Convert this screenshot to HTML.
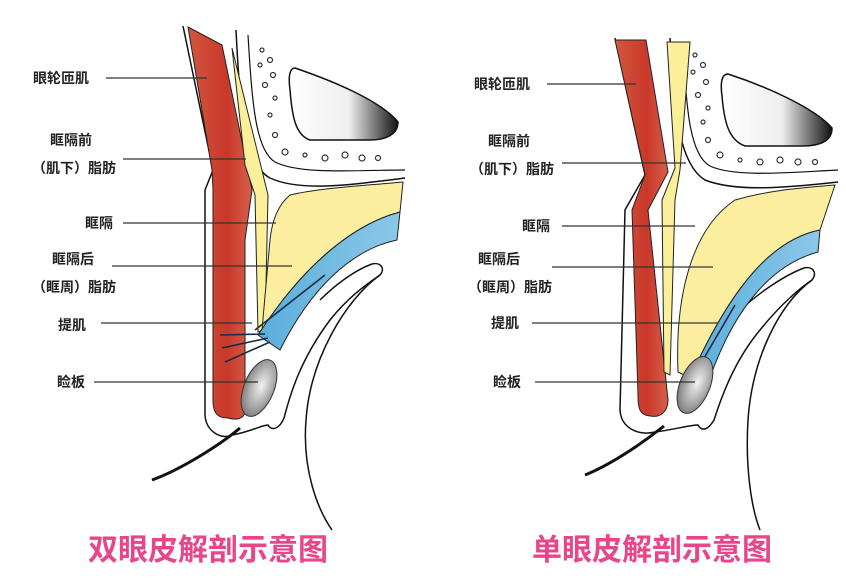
<!DOCTYPE html>
<html><head><meta charset="utf-8"><style>
html,body{margin:0;padding:0;background:#fff;}
svg{display:block}
text{font-family:"Liberation Sans","Noto Sans CJK SC",sans-serif;font-weight:bold;fill:#222;font-size:14px}
.t{fill:#e8468a;font-size:30px;font-weight:bold}
</style></head><body>
<svg width="846" height="584" viewBox="0 0 846 584" xmlns="http://www.w3.org/2000/svg">
<defs>
<linearGradient id="red" x1="0" x2="1"><stop offset="0" stop-color="#d2573f"/><stop offset="0.6" stop-color="#c9382a"/><stop offset="1" stop-color="#d6604a"/></linearGradient>
<linearGradient id="sinus" x1="0" x2="1"><stop offset="0" stop-color="#fff"/><stop offset="0.55" stop-color="#eee"/><stop offset="1" stop-color="#111"/></linearGradient>
<radialGradient id="tar" cx="0.55" cy="0.45" r="0.6"><stop offset="0" stop-color="#f2f2f2"/><stop offset="0.6" stop-color="#aaa"/><stop offset="1" stop-color="#777"/></radialGradient>
<linearGradient id="blue" x1="0" x2="1"><stop offset="0" stop-color="#5aaedc"/><stop offset="1" stop-color="#8cc8e8"/></linearGradient>
</defs>

<g stroke="#111" stroke-width="1.5" fill="none">
<!-- LEFT DIAGRAM -->
<!-- bone/orbit lines -->
<path d="M236 30 C240 110 245 165 270 178 C300 192 350 185 405 178"/>
<path d="M248 35 C252 100 255 150 275 162 C300 175 360 170 405 170" stroke-width="1.2"/>
<path d="M295 68 C330 80 380 100 398 122 C398 135 385 140 370 140 L310 140 C295 135 292 115 290 90 C288 75 290 68 295 68 Z" fill="url(#sinus)"/>
<!-- skin outer -->
<path d="M183 26 L213 170 L205 190 L205 415 C206 432 222 440 232 435"/>
<!-- inner lower curve -->
<path d="M232 435 C250 432 262 425 268 425 C272 432 280 428 284 418 C290 395 300 360 330 320 C350 295 370 282 380 275 C386 268 380 262 372 264 C355 270 335 285 320 300"/>
<path d="M380 275 C345 300 310 360 306 420 C302 470 318 510 332 530"/>
<path d="M240 428 C220 445 180 470 152 480" stroke-width="3"/>
</g>
<!-- red muscle left -->
<path d="M188 27 L222 45 L252 190 L245 240 L245 410 C245 420 235 420 228 418 C215 418 213 410 213 400 L213 190 L212 170 Z" fill="url(#red)" stroke="#222" stroke-width="1"/>
<!-- preseptal fat thin -->
<path d="M232 48 L268 195 L265 330 L258 332 L255 195 L245 165 Z" fill="#fbef9a" stroke="#222" stroke-width="1"/>
<!-- big yellow left -->
<path d="M290 195 C320 188 360 186 403 182 L400 212 C350 225 300 270 262 330 L270 240 C272 220 278 205 290 195 Z" fill="#fbef9f" stroke="#222" stroke-width="1"/>
<!-- blue left -->
<path d="M400 212 L397 240 C350 250 310 290 280 350 L258 335 C300 270 350 225 400 212 Z" fill="url(#blue)" stroke="#222" stroke-width="1"/>
<g stroke="#1a2a44" stroke-width="1.6" fill="none">
<path d="M325 275 L255 330"/><path d="M265 334 L220 335"/><path d="M268 338 L222 348"/><path d="M270 342 L225 362"/>
</g>
<ellipse cx="259" cy="388" rx="15" ry="30" transform="rotate(22 259 388)" fill="url(#tar)" stroke="#333" stroke-width="1"/>
<!-- dots left -->
<g fill="none" stroke="#333" stroke-width="1.2">
<circle cx="262" cy="50" r="2"/><circle cx="270" cy="60" r="2.5"/><circle cx="260" cy="65" r="2"/><circle cx="273" cy="75" r="2.5"/><circle cx="265" cy="85" r="2.5"/><circle cx="275" cy="98" r="2"/><circle cx="270" cy="115" r="2"/><circle cx="275" cy="135" r="2.5"/><circle cx="285" cy="152" r="3"/><circle cx="305" cy="155" r="2"/><circle cx="325" cy="158" r="3"/><circle cx="345" cy="155" r="3"/><circle cx="362" cy="158" r="3"/><circle cx="378" cy="158" r="2.5"/>
</g>

<!-- RIGHT DIAGRAM -->
<g stroke="#111" stroke-width="1.5" fill="none">
<path d="M670 38 C674 115 680 165 705 180 C735 192 785 188 838 182"/>
<path d="M683 42 C686 110 690 155 710 166 C735 178 795 172 838 170" stroke-width="1.2"/>
<path d="M728 74 C765 86 815 108 832 128 C832 142 818 146 802 146 L745 146 C728 140 724 120 722 96 C720 82 722 74 728 74 Z" fill="url(#sinus)"/>
<path d="M615 38 L645 175 L625 210 L620 410 C621 428 638 436 655 432"/>
<path d="M655 432 C672 430 690 425 698 425 C702 432 708 430 714 420 C722 395 735 360 760 330 C780 305 800 288 812 280 C818 272 812 266 804 268 C785 275 760 292 740 310"/>
<path d="M812 280 C778 305 752 360 748 420 C745 470 752 510 760 530"/>
<path d="M664 426 C640 445 610 465 585 475" stroke-width="3"/>
</g>
<path d="M615 40 L646 40 L668 172 L648 210 L668 400 C668 412 660 418 650 416 C638 415 638 405 638 395 L632 210 L645 175 Z" fill="url(#red)" stroke="#222" stroke-width="1"/>
<path d="M667 42 L690 42 L680 170 L675 200 L670 375 L664 372 L662 200 L675 168 Z" fill="#fbef9a" stroke="#222" stroke-width="1"/>
<path d="M735 200 C770 190 800 188 835 185 L820 230 C770 240 730 290 690 378 L678 372 C675 300 690 230 735 200 Z" fill="#fbef9f" stroke="#222" stroke-width="1"/>
<path d="M820 230 L818 252 C770 265 735 310 712 372 L690 378 C730 290 770 240 820 230 Z" fill="url(#blue)" stroke="#222" stroke-width="1"/>
<path d="M735 305 L700 365" stroke="#1a2a44" stroke-width="1.6"/>
<ellipse cx="695" cy="385" rx="15" ry="30" transform="rotate(22 695 385)" fill="url(#tar)" stroke="#333" stroke-width="1"/>
<g fill="none" stroke="#333" stroke-width="1.2">
<circle cx="695" cy="55" r="2"/><circle cx="703" cy="65" r="2.5"/><circle cx="693" cy="72" r="2"/><circle cx="706" cy="82" r="2.5"/><circle cx="698" cy="95" r="2.5"/><circle cx="708" cy="108" r="2"/><circle cx="703" cy="122" r="2"/><circle cx="708" cy="140" r="2.5"/><circle cx="720" cy="155" r="3"/><circle cx="740" cy="160" r="2"/><circle cx="760" cy="162" r="3"/><circle cx="780" cy="160" r="3"/><circle cx="798" cy="162" r="3"/><circle cx="815" cy="162" r="2.5"/>
</g>

<!-- label lines -->
<g stroke="#333" stroke-width="1.3">
<line x1="106" y1="78" x2="207" y2="78"/>
<line x1="123" y1="159" x2="246" y2="159"/>
<line x1="123" y1="223" x2="276" y2="223"/>
<line x1="112" y1="266" x2="292" y2="266"/>
<line x1="101" y1="323" x2="252" y2="323"/>
<line x1="94" y1="382" x2="258" y2="382"/>
<line x1="547" y1="84" x2="636" y2="84"/>
<line x1="562" y1="163" x2="686" y2="163"/>
<line x1="562" y1="226" x2="695" y2="226"/>
<line x1="552" y1="267" x2="713" y2="267"/>
<line x1="532" y1="323" x2="718" y2="323"/>
<line x1="535" y1="382" x2="695" y2="382"/>
</g>
<text x="33" y="83">眼轮匝肌</text>
<text x="50" y="145">眶隔前</text>
<text x="32" y="173">（肌下）脂肪</text>
<text x="85" y="228">眶隔</text>
<text x="52" y="264">眶隔后</text>
<text x="32" y="292">（眶周）脂肪</text>
<text x="58" y="330">提肌</text>
<text x="57" y="387">睑板</text>
<text x="474" y="89">眼轮匝肌</text>
<text x="488" y="146">眶隔前</text>
<text x="470" y="174">（肌下）脂肪</text>
<text x="522" y="231">眶隔</text>
<text x="478" y="264">眶隔后</text>
<text x="468" y="292">（眶周）脂肪</text>
<text x="491" y="328">提肌</text>
<text x="493" y="387">睑板</text>
<text class="t" x="88" y="560">双眼皮解剖示意图</text>
<text class="t" x="532" y="560">单眼皮解剖示意图</text>
</svg>
</body></html>
